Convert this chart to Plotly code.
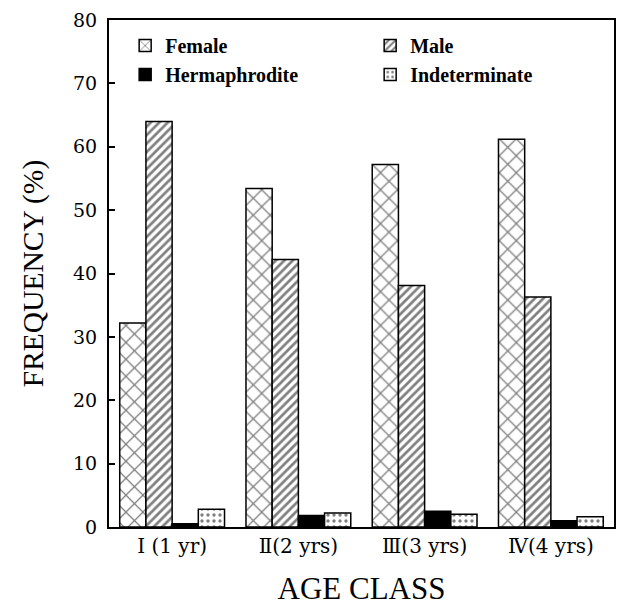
import plotly.graph_objects as go

categories = ["I (1 yr)", "Ⅱ(2 yrs)", "Ⅲ(3 yrs)", "Ⅳ(4 yrs)"]
female = [32.2, 53.4, 57.2, 61.2]
male = [64.0, 42.2, 38.1, 36.3]
hermaphrodite = [0.5, 1.8, 2.5, 1.0]
indeterminate = [2.8, 2.2, 2.0, 1.6]

series = [
    ("Female", female, dict(shape="x", size=12, solidity=0.2)),
    ("Male", male, dict(shape="/", size=6, solidity=0.45)),
    ("Hermaphrodite", hermaphrodite, None),
    ("Indeterminate", indeterminate, dict(shape=".", size=6, solidity=0.25)),
]

fig = go.Figure()
for name, vals, pat in series:
    if pat is None:
        marker = dict(color="black", line=dict(color="black", width=1.5))
    else:
        marker = dict(color="white", line=dict(color="black", width=1.5),
                      pattern=dict(fgcolor="black", bgcolor="white", **pat))
    fig.add_trace(go.Bar(x=categories, y=vals, name=name, marker=marker))

serif = "Liberation Serif, DejaVu Serif, serif"
tickserif = "DejaVu Serif, serif"
# page body has an 8px default margin; figure is sized/offset to compensate
fig.update_layout(
    width=616, height=602,
    margin=dict(l=101, r=10, t=12, b=83, autoexpand=False),
    barmode="group", bargap=0.17, bargroupgap=0,
    plot_bgcolor="white", paper_bgcolor="white",
    font=dict(family=serif, color="black"),
    legend=dict(orientation="h", x=0.032, y=0.988, xanchor="left", yanchor="top",
                entrywidth=200, entrywidthmode="pixels",
                font=dict(size=20, family=serif, weight="bold"),
                bgcolor="rgba(0,0,0,0)", itemwidth=30),
    xaxis=dict(showline=True, linecolor="black", linewidth=2, mirror=True,
               ticks="", tickfont=dict(size=20, family=tickserif), automargin=True,
               title=dict(text="AGE CLASS", font=dict(size=31), standoff=20)),
    yaxis=dict(range=[0, 80], dtick=10, showline=True, linecolor="black", linewidth=2,
               mirror=True, ticks="inside", ticklen=6, tickcolor="black", tickwidth=1.5,
               showgrid=False, zeroline=False, automargin=True, ticklabelstandoff=6,
               ticklabeloverflow="allow",
               tickfont=dict(size=19, family=tickserif),
               title=dict(text="FREQUENCY (%)", font=dict(size=29.5), standoff=21)),
)
fig.write_html("out.html")
